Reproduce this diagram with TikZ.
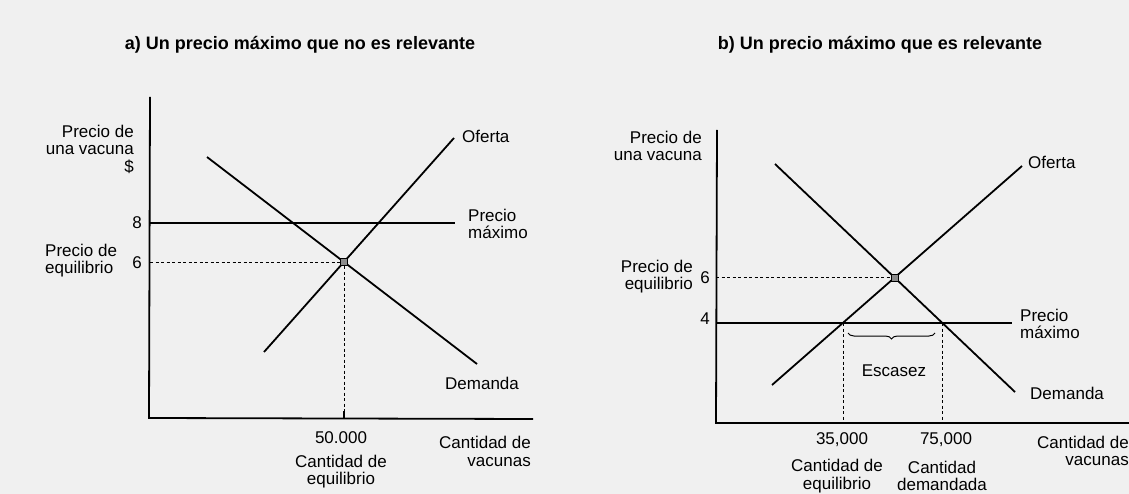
\documentclass[tikz,border=0pt]{standalone}
\usepackage{fontspec}
\setmainfont{Liberation Sans}
\usetikzlibrary{decorations.pathreplacing}
\begin{document}
\begin{tikzpicture}[x=1pt,y=-1pt,
  lbl/.style={font=\fontsize{17}{17.5}\selectfont, inner sep=0pt},
  ttl/.style={font=\fontsize{18}{20}\selectfont\bfseries, inner sep=0pt},
  curve/.style={line width=1.8pt},
  axisline/.style={line width=1.8pt, line join=miter},
  guide/.style={line width=0.9pt, dash pattern=on 3pt off 2.5pt},
  tickline/.style={line width=1.3pt},
  eqpt/.style={draw, fill=black!45, minimum size=7pt, inner sep=0pt, line width=1.1pt},
  bracestyle/.style={decorate, decoration={brace, mirror, amplitude=6pt}, line width=1pt}]
\fill[black!6] (0,0) rectangle (1129,494);
\useasboundingbox (0,0) rectangle (1129,494);

% ---------------- Panel a ----------------
\node[ttl] (aT) at (300,45) {a) Un precio máximo que no es relevante};
\coordinate (aYt) at (150,97);
\coordinate (aO) at (149,418);
\coordinate (aXr) at (533,419);
\draw[axisline] (aYt) -- (aO) -- (aXr);

\coordinate (aC1) at (150,223);
\coordinate (aC2) at (455,223);
\draw[curve] (aC1) -- (aC2);

\coordinate (aD1) at (207,157);
\coordinate (aD2) at (477,364);
\draw[curve] (aD1) -- (aD2);
\coordinate (aS1) at (264,352);
\coordinate (aS2) at (454,138);
\draw[curve] (aS1) -- (aS2);

\node[eqpt] (aEq) at (344,262) {};
\coordinate (aG1) at (150,262);
\coordinate (aG2) at (344,418);
\draw[guide] (aG1) -- (aEq);
\draw[guide] (aEq) -- (aG2);
\coordinate (aTk1) at (344,411);
\draw[tickline] (aTk1) -- (aG2);

\node[lbl, anchor=east, align=right] (aYl) at (134,149) {Precio de\\una vacuna\\\$};
\node[lbl] (a8) at (137,223) {8};
\node[lbl, anchor=west, align=left] (aPe) at (45,260.5) {Precio de\\equilibrio};
\node[lbl] (a6) at (137,263) {6};
\node[lbl, anchor=west] (aOf) at (462,136) {Oferta};
\node[lbl, anchor=west, align=left] (aPm) at (468,224) {Precio\\máximo};
\node[lbl, anchor=west] (aDe) at (445,383) {Demanda};
\node[lbl] (a50) at (341,438) {50.000};
\node[lbl, align=center] (aCe) at (341,471.5) {Cantidad de\\equilibrio};
\node[lbl, anchor=east, align=right] (aCv) at (531,451.5) {Cantidad de\\vacunas};

% ---------------- Panel b ----------------
\node[ttl] (bT) at (880,45) {b) Un precio máximo que es relevante};
\coordinate (bYt) at (717,130);
\coordinate (bO) at (716,423);
\coordinate (bXr) at (1129,423);
\draw[axisline] (bYt) -- (bO) -- (bXr);

\coordinate (bC1) at (716,323);
\coordinate (bC2) at (1012,323);
\draw[curve] (bC1) -- (bC2);

\coordinate (bD1) at (775,164);
\coordinate (bD2) at (1015,392);
\draw[curve] (bD1) -- (bD2);
\coordinate (bS1) at (772,385);
\coordinate (bS2) at (1022,166);
\draw[curve] (bS1) -- (bS2);

\node[eqpt] (bEq) at (894.6,277.6) {};
\coordinate (bG1) at (716,277.6);
\draw[guide] (bG1) -- (bEq);

\coordinate (bV1t) at (843,323);
\coordinate (bV1b) at (843,423);
\coordinate (bV2t) at (942.4,323);
\coordinate (bV2b) at (942.4,423);
\draw[guide] (bV1t) -- (bV1b);
\draw[guide] (bV2t) -- (bV2b);

\coordinate (bBr1) at (848,333);
\coordinate (bBr2) at (935,333);
\draw[bracestyle] (bBr1) -- (bBr2);
\node[lbl] (bEs) at (894,371) {Escasez};

\node[lbl, anchor=east, align=right] (bYl) at (702,146) {Precio de\\una vacuna};
\node[lbl, anchor=east, align=right] (bPe) at (693,276.5) {Precio de\\equilibrio};
\node[lbl] (b6) at (705,278) {6};
\node[lbl] (b4) at (705,319) {4};
\node[lbl, anchor=west] (bOf) at (1028,162) {Oferta};
\node[lbl, anchor=west, align=left] (bPm) at (1020,324) {Precio\\máximo};
\node[lbl, anchor=west] (bDe) at (1030,393) {Demanda};
\node[lbl] (b35) at (842,440) {35,000};
\node[lbl] (b75) at (946,440) {75,000};
\node[lbl, align=center] (bCe) at (837,476) {Cantidad de\\equilibrio};
\node[lbl, align=center] (bCd) at (942,476) {Cantidad\\demandada};
\node[lbl, anchor=east, align=right] (bCv) at (1129,451) {Cantidad de\\vacunas};
\end{tikzpicture}
\end{document}
